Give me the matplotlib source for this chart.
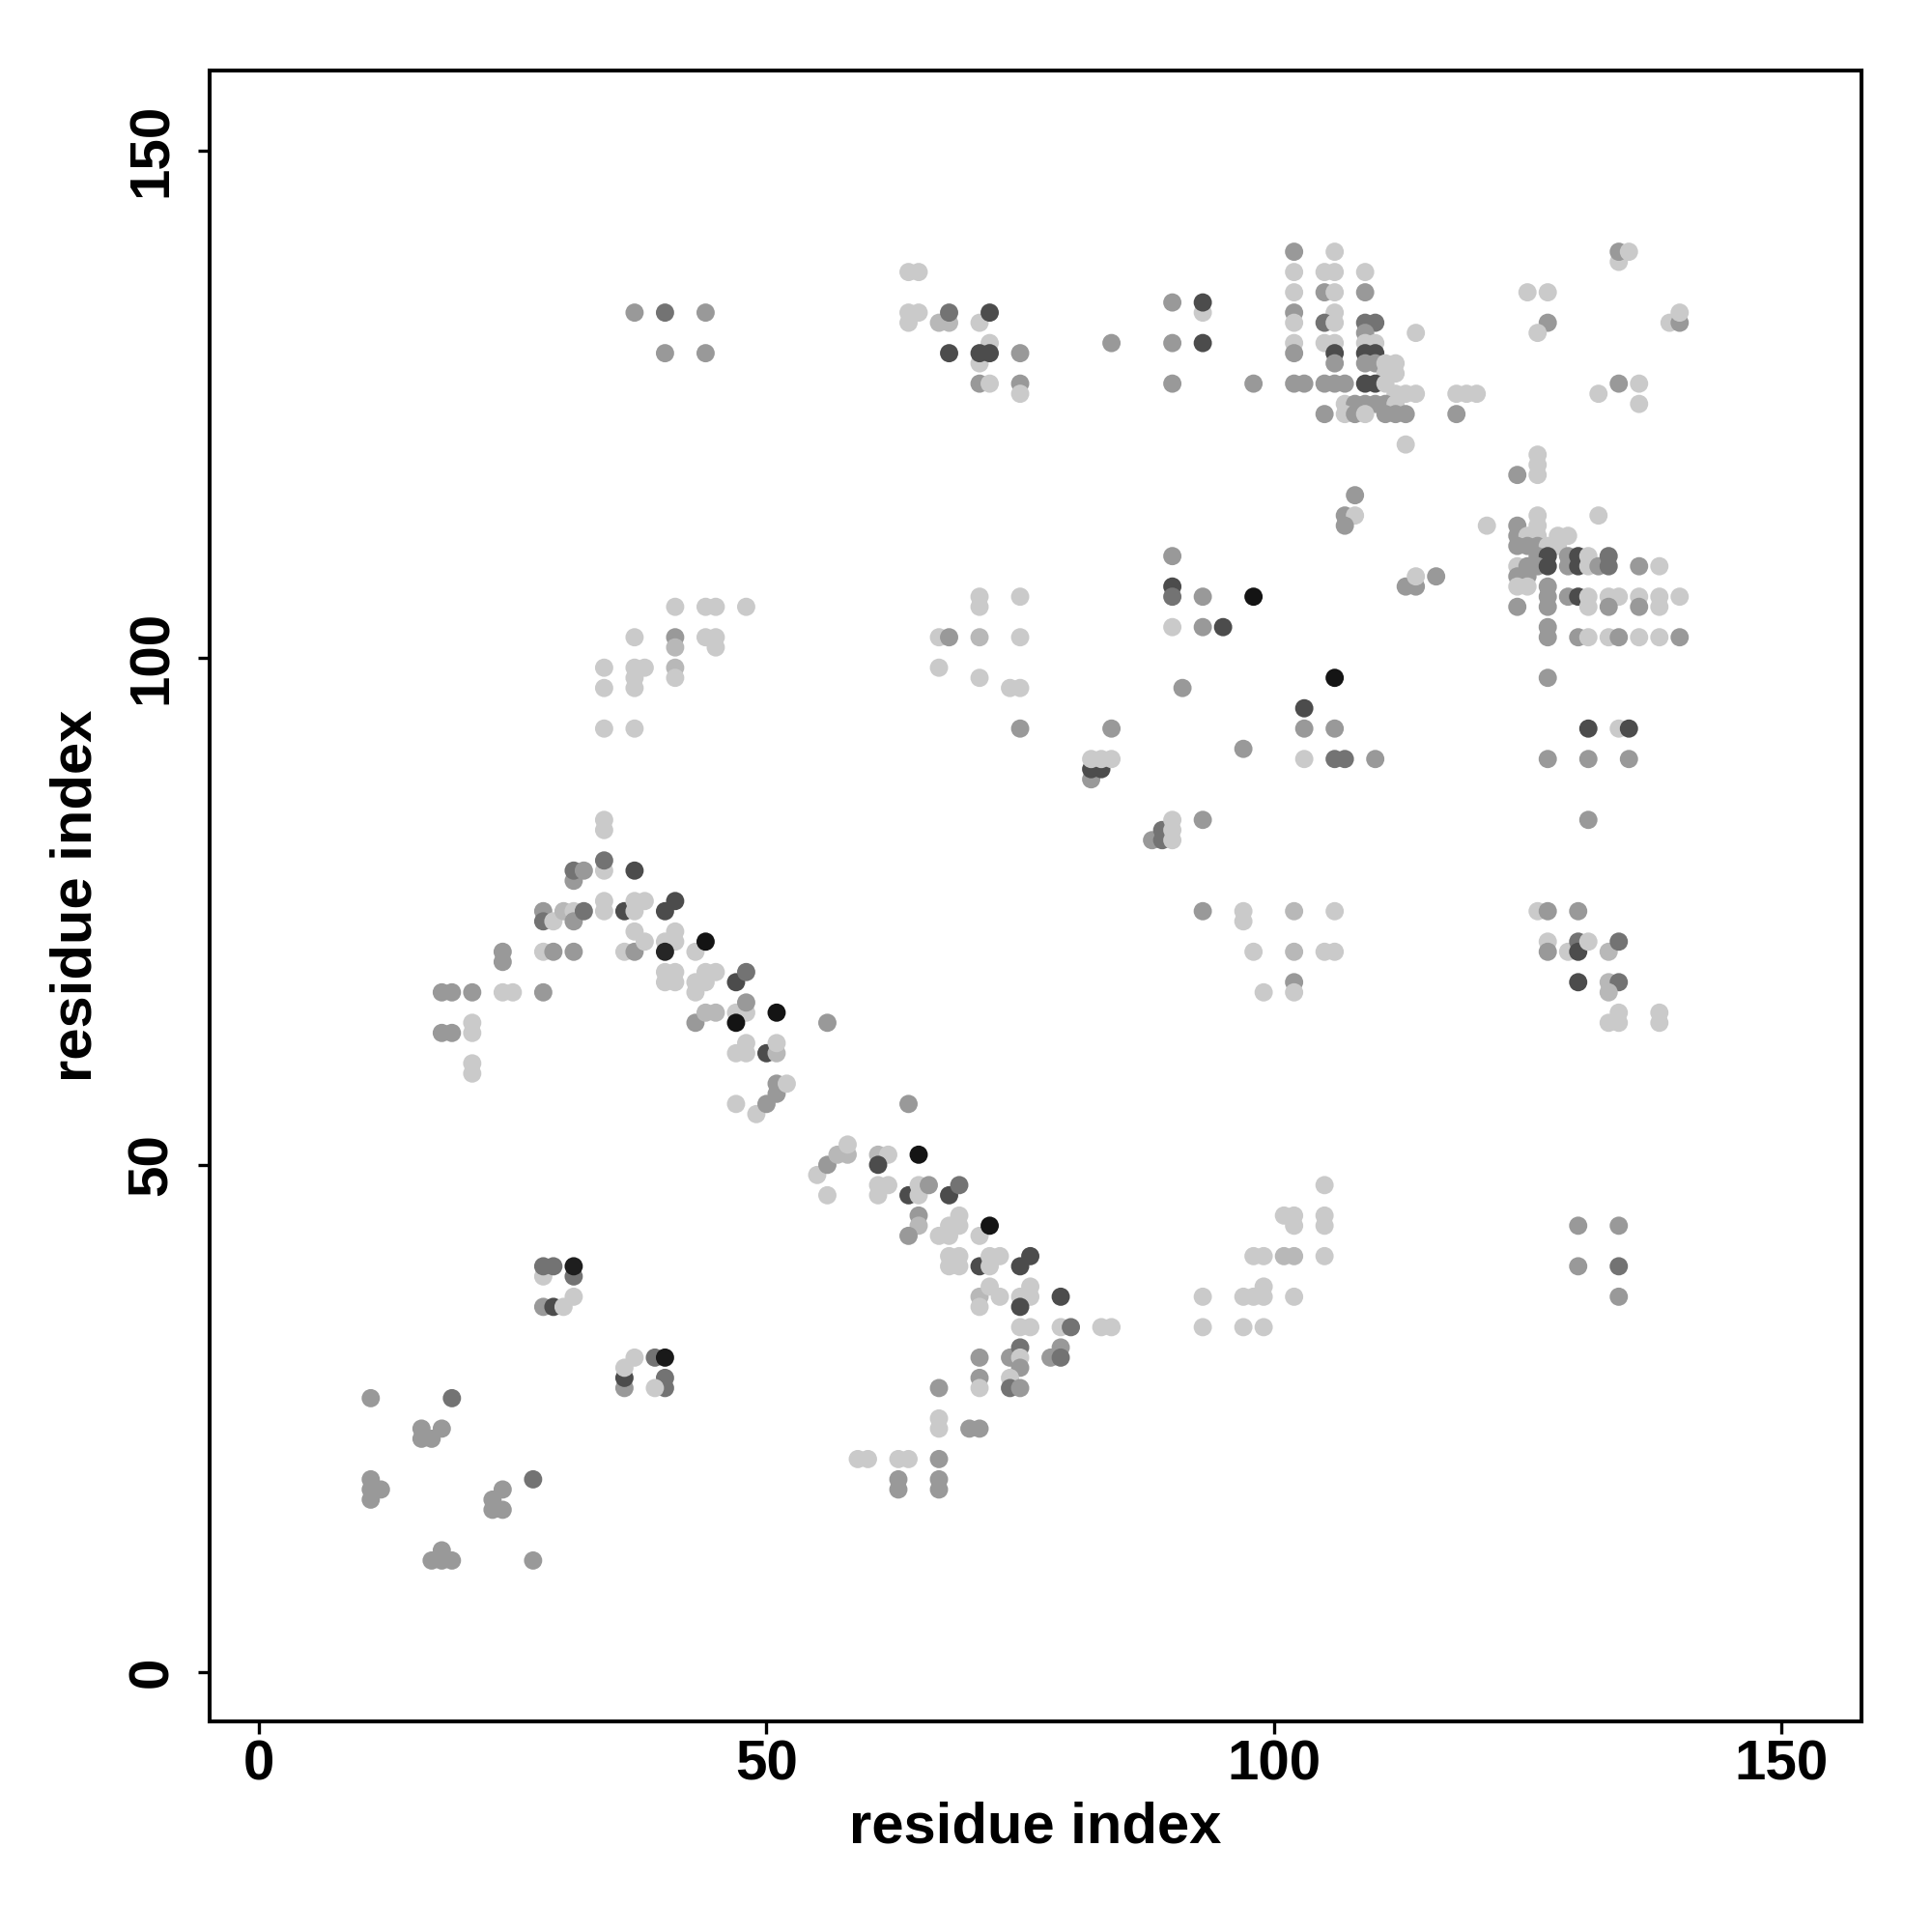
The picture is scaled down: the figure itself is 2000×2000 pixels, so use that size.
import matplotlib
matplotlib.use("Agg")
import matplotlib.pyplot as plt

# grey levels used for the dots (0 = black, 1 = white)
L, LM, M, DG, D, K = 0.79, 0.72, 0.60, 0.45, 0.30, 0.08

res_i = [
    11, 19, 16, 18, 16, 17, 11, 11, 11, 12, 24, 23, 23, 24, 27, 17, 18, 19, 18, 27,
    28, 29, 28, 31, 31, 28, 29, 30, 31,
    36, 36, 36, 37, 39, 40, 40, 40, 39,
    47, 49, 50, 51, 51, 52, 64,
    55, 56, 56, 57, 58, 58,
    61, 62, 61, 65, 61, 62, 61, 64, 65, 65, 66, 68, 69,
    65, 65, 64, 67, 68, 68, 69, 69, 71, 72,
    68, 69, 68, 69, 71, 72, 73, 72, 75, 76,
    71, 72, 73, 71, 75, 76, 76, 75, 79,
    75, 76, 79, 80, 83, 84,
    71, 71, 71, 74, 75, 75, 75, 74, 74, 75, 79, 78, 79,
    67, 67, 67, 70, 71,
    59, 60, 63, 64, 67, 63, 63, 67, 67,
    93, 93, 97, 98, 99, 99, 102, 97, 99,
    98, 99, 101, 102, 105, 101, 102, 102, 105, 105, 105,
    130, 134, 130, 134, 134,
    34, 34, 34, 34, 37, 31, 31, 32,
    28, 28, 29, 30, 31, 31, 32, 34, 34, 36, 37, 38, 37, 40, 41,
    36, 37, 37, 38, 40, 41, 41, 40,
    40, 41, 40, 41,
    24, 24, 28, 29, 31,
    18, 19, 21, 24, 25, 28,
    18, 19, 21, 21, 21, 21,
    43, 44, 44, 45, 43, 44, 43, 47, 48,
    43, 44, 45, 47, 48, 48, 47, 51, 56,
    47, 48, 48, 50, 51, 51,
    34, 34, 34, 37, 37, 38, 37, 37, 37, 41, 41, 41, 41, 41, 44, 45, 44, 45, 45, 48,
    71, 71, 75, 67, 68, 71, 75, 67, 71, 74, 75, 75,
    82, 82, 83, 82, 83, 84, 84,
    88, 89, 89, 90, 90, 90, 93,
    90, 90, 90, 93, 90, 93, 95, 98, 91, 97,
    103, 103, 106, 103, 106, 107, 110, 106,
    93, 97, 97, 102, 106, 98, 102, 105, 106, 102, 102, 99,
    126, 127, 130, 127, 127, 129, 130, 130, 131, 133, 134,
    130, 133, 134, 133, 134, 133, 134, 138, 138,
    131, 134, 135, 127, 131, 135, 131, 127,
    37, 40, 40, 44, 44,
    64, 65, 64, 64, 65, 67, 68, 68, 68, 71, 72, 72, 71, 71, 72, 71, 72, 75, 75, 75,
    84, 90, 93, 93, 90, 93, 90, 98,
    102, 106, 102, 105, 106, 109,
    102, 105, 106, 109,
    102, 102, 106, 105, 106, 109, 110, 109, 114,
    102, 102, 105, 106, 109, 110, 106, 106, 109, 110, 109, 110, 111, 112, 111, 112,
    102, 103, 105, 106, 107, 109, 110, 111, 112, 113, 114, 118, 119, 120,
    107, 108, 109, 110, 111, 112, 105, 107, 108, 109, 111, 112, 113, 118, 113,
    108, 107, 108, 107, 113, 114, 114, 116, 121,
    125, 127, 127, 126, 134, 134, 135, 139, 140, 140, 134, 132, 136, 136,
    126, 126, 126, 124, 132, 126, 124, 126, 124, 125, 126, 128, 129,
    124, 125, 126, 127, 128, 126, 127, 126, 127, 129, 129, 130, 130, 131, 131, 132, 133, 133, 136, 138,
    124, 125, 124, 125, 124, 125, 124,
    127, 127, 127, 129, 130, 131, 131, 133, 134, 133, 136, 136, 138, 138, 140,
    127, 127, 130, 131, 133, 134, 136, 138, 140,
]

res_j = [
    27, 27, 24, 24, 23, 23, 19, 18, 17, 18, 18, 17, 16, 16, 19, 11, 12, 11, 11, 11,
    39, 40, 40, 39, 40, 36, 36, 36, 37,
    28, 29, 30, 31, 31, 31, 29, 28, 28,
    56, 55, 56, 57, 58, 58, 56,
    49, 47, 50, 51, 51, 52,
    51, 51, 50, 51, 48, 48, 47, 47, 48, 47, 48, 47, 48,
    45, 44, 43, 43, 43, 44, 44, 45, 43, 44,
    41, 41, 40, 40, 40, 41, 41, 40, 40, 41,
    37, 38, 37, 36, 37, 38, 37, 36, 37,
    34, 34, 34, 34, 34, 34,
    31, 29, 28, 31, 32, 31, 30, 29, 28, 28, 32, 31, 31,
    28, 25, 24, 24, 24,
    21, 21, 21, 21, 21, 19, 18, 19, 18,
    37, 34, 37, 37, 38, 37, 37, 34, 34,
    41, 41, 41, 41, 41, 45, 45, 44, 45, 44, 48,
    44, 44, 40, 40, 37,
    84, 83, 79, 80, 79, 78, 79, 79,
    75, 74, 74, 75, 75, 74, 75, 76, 75, 75, 76, 76, 75, 75, 76,
    71, 71, 73, 72, 72, 72, 73, 71,
    69, 69, 68, 68,
    71, 70, 71, 71, 71,
    67, 67, 67, 67, 67, 67,
    63, 63, 64, 63, 60, 59,
    71, 72, 69, 69, 68, 68, 67, 68, 69,
    64, 65, 65, 65, 65, 66, 64, 65, 64,
    61, 61, 62, 61, 61, 62,
    99, 97, 93, 102, 99, 99, 98, 97, 93, 105, 102, 101, 99, 98, 105, 105, 102, 102, 101, 105,
    106, 105, 106, 102, 102, 102, 102, 99, 98, 97, 97, 93,
    88, 89, 89, 90, 90, 90, 93,
    82, 82, 83, 84, 83, 82, 84,
    110, 107, 106, 106, 103, 103, 103, 106, 97, 91,
    95, 93, 93, 90, 90, 90, 90, 98,
    75, 75, 74, 75, 75, 71, 71, 71, 71, 68, 67, 67,
    75, 75, 75, 72, 71, 71, 72, 71, 72, 71, 72,
    68, 68, 68, 67, 65, 64, 64, 65, 64,
    93, 93, 93, 90, 90, 90, 84, 98,
    134, 134, 130, 134, 130,
    138, 138, 133, 134, 134, 133, 133, 134, 130, 133, 134, 131, 129, 130, 130, 127, 127, 130, 127, 126,
    131, 135, 134, 135, 131, 131, 127, 127,
    140, 140, 138, 138, 138, 138,
    136, 136, 136, 136,
    134, 133, 134, 133, 133, 133, 133, 132, 132,
    131, 130, 131, 131, 131, 131, 130, 129, 130, 130, 129, 129, 129, 129, 128, 128,
    127, 127, 127, 127, 127, 127, 127, 127, 126, 126, 126, 126, 126, 126,
    125, 125, 125, 125, 125, 125, 124, 124, 124, 124, 124, 124, 124, 124, 121,
    116, 114, 114, 113, 107, 107, 108, 108, 113,
    136, 136, 133, 132, 139, 140, 140, 133, 133, 134, 127, 126, 127, 125,
    120, 119, 118, 118, 114, 114, 113, 113, 112, 112, 112, 112, 112,
    111, 111, 111, 111, 111, 110, 110, 109, 109, 110, 109, 110, 109, 110, 109, 109, 110, 109, 109, 109,
    109, 109, 108, 108, 107, 107, 105,
    107, 106, 105, 106, 106, 106, 105, 106, 106, 105, 106, 105, 106, 105, 106,
    103, 102, 102, 102, 102, 102, 102, 102, 102,
]

shade = [
    M, DG, M, M, M, M, M, M, M, M, M, M, M, M, DG, M, M, M, M, M,
    L, DG, DG, DG, 0.12, M, D, L, L,
    M, D, L, L, DG, 0.10, DG, DG, L,
    L, L, M, M, M, L, M,
    L, L, M, LM, LM, L,
    LM, L, D, K, L, L, L, D, L, L, M, D, DG,
    M, LM, M, L, L, L, L, L, L, K,
    L, L, L, L, D, L, L, L, D, D,
    LM, L, L, L, L, L, L, D, D,
    L, L, L, DG, L, L,
    M, M, L, M, DG, L, M, L, DG, M, M, M, DG,
    M, L, L, M, M,
    L, L, L, L, M, M, M, M, M,
    L, L, L, L, L, L, L, L, L,
    L, L, LM, LM, L, L, L, L, L, L, L,
    M, M, M, DG, M,
    L, L, L, DG, D, M, DG, M,
    M, DG, L, LM, L, M, DG, L, L, D, L, L, L, D, D,
    L, M, L, L, L, L, L, 0.15,
    L, L, L, L,
    M, M, L, M, M,
    M, M, M, L, L, M,
    M, M, L, L, L, L,
    L, K, L, L, L, L, L, D, DG,
    M, LM, LM, L, L, M, K, K, M,
    L, L, L, D, LM, L,
    L, L, L, L, L, L, L, L, L, L, M, LM, LM, L, L, L, L, L, L, L,
    L, L, L, L, M, LM, L, L, L, L, L, M,
    M, D, D, L, L, L, M,
    M, DG, DG, L, L, L, M,
    M, D, DG, M, L, M, D, K, M, M,
    D, M, M, L, DG, DG, M, K,
    M, L, L, LM, L, L, LM, L, L, M, L, L,
    L, M, M, L, M, L, DG, D, L, LM, DG,
    D, LM, DG, LM, L, L, L, L, L,
    D, L, D, M, M, M, M, M,
    M, DG, M, M, M,
    L, L, L, L, L, LM, LM, DG, D, L, D, L, L, D, D, M, L, M, M, L,
    M, M, L, D, M, D, M, M,
    M, L, L, L, L, L,
    L, M, L, M,
    M, L, L, DG, L, DG, DG, M, L,
    L, M, L, L, L, L, D, M, D, D, M, M, L, L, L, L,
    M, M, M, M, M, D, D, L, L, L, L, L, L, L,
    L, M, M, M, M, L, M, L, M, L, M, M, M, M, L,
    M, M, L, M, M, M, L, M, L,
    L, L, M, L, L, M, L, L, M, L, M, L, L, L,
    L, L, L, M, L, L, M, L, M, L, L, L, L,
    M, M, M, L, L, M, D, M, D, M, M, D, D, L, L, M, DG, DG, M, L,
    L, M, M, M, L, L, M,
    M, M, M, M, D, L, L, L, L, M, L, M, L, L, L,
    M, M, M, L, L, M, L, L, M,
]

ticks = [0, 50, 100, 150]

assert len(res_i) == len(res_j) == len(shade)

plt.rcParams['font.family'] = ['Liberation Sans', 'DejaVu Sans']
plt.rcParams['font.weight'] = 'bold'

fig = plt.figure(figsize=(20, 20), dpi=100)
ax = fig.add_axes([0.1084, 0.109, 0.855, 0.8547])

ax.scatter(res_i, res_j, c=shade, cmap='gray', vmin=0, vmax=1,
           s=185, linewidths=0)

ax.set_xlim(-4.9, 157.9)
ax.set_ylim(-4.86, 157.9)
ax.set_xticks(ticks)
ax.set_yticks(ticks)
ax.set_yticklabels([str(t) for t in ticks], rotation=90, va='center')

for s in ax.spines.values():
    s.set_linewidth(2.9)
ax.tick_params(axis='both', direction='out', length=9, width=2.4,
               labelsize=42)
ax.tick_params(axis='x', pad=4)
ax.tick_params(axis='y', pad=14)

ax.set_xlabel("residue index", fontsize=43, fontweight='bold', va='center')
ax.set_ylabel("residue index", fontsize=43, fontweight='bold', va='center')
ax.xaxis.set_label_coords(0.5, -0.0644)
ax.yaxis.set_label_coords(-0.0806, 0.5)

fig.savefig("out.png", dpi=100)
